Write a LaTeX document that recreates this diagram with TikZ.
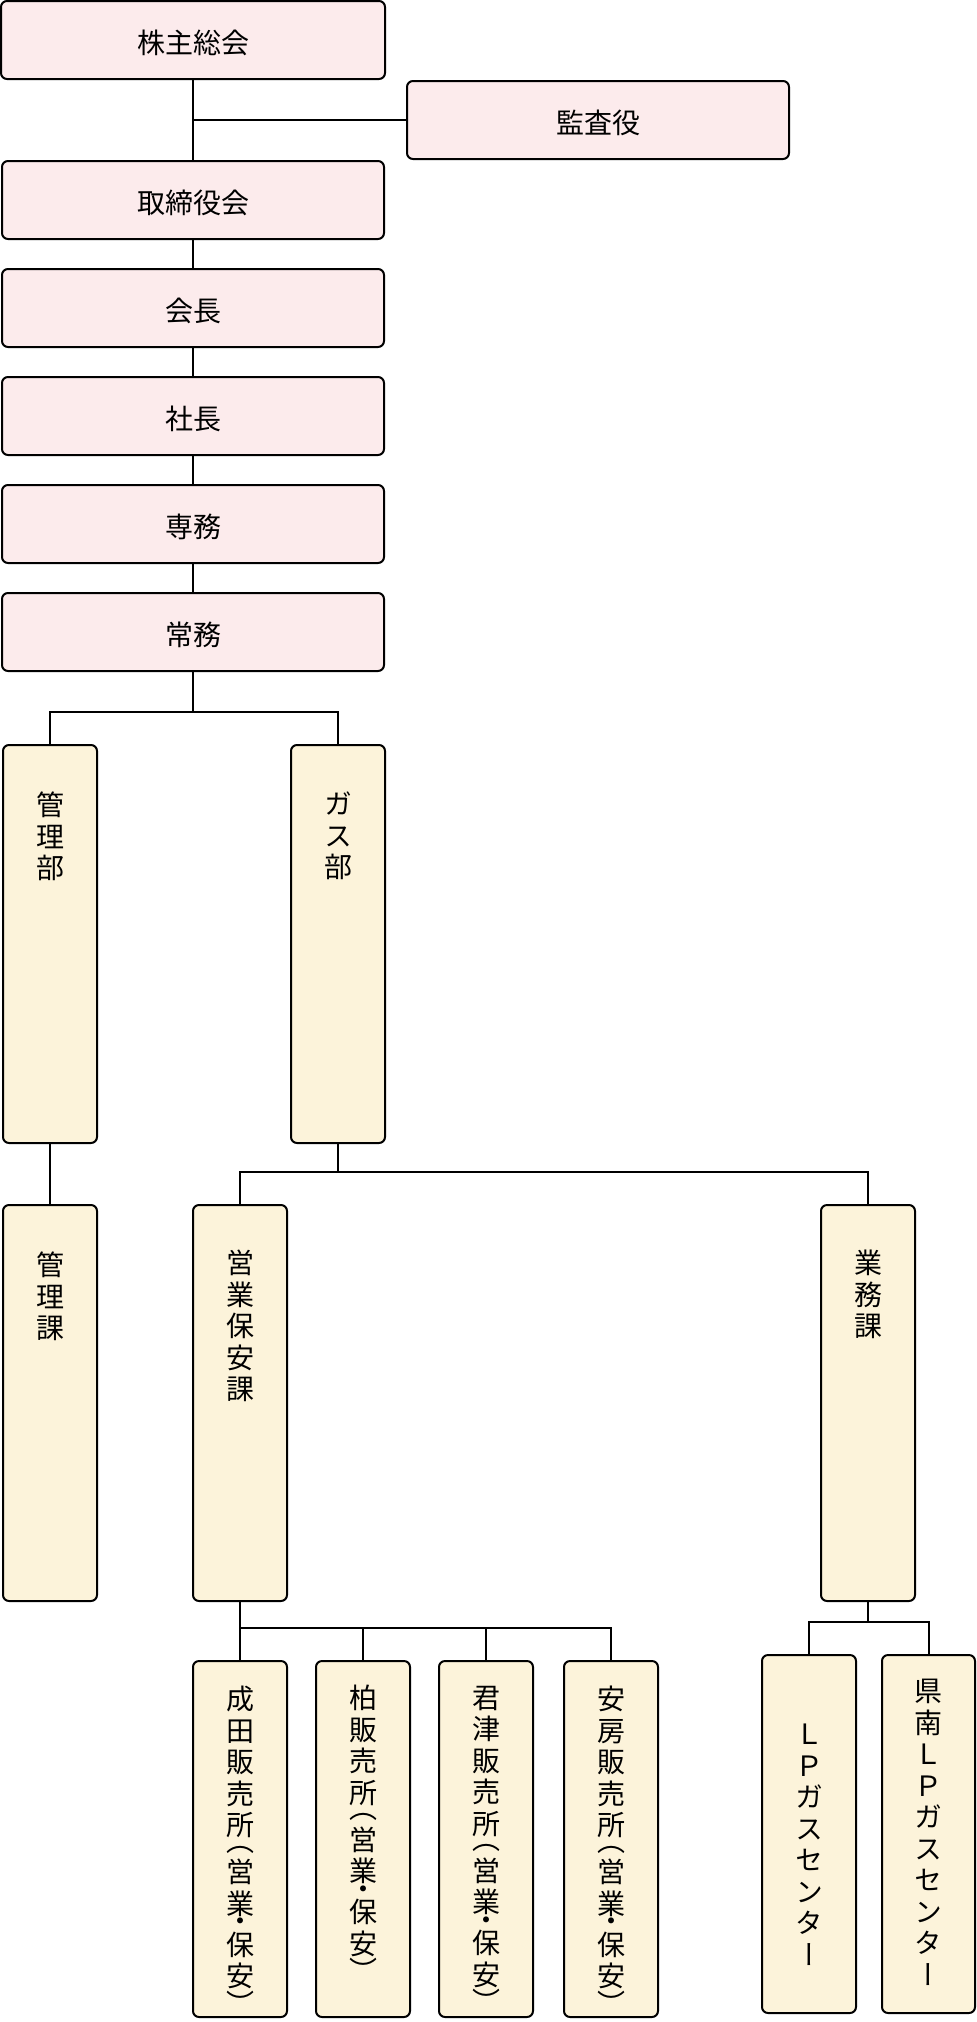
\documentclass[tikz,border=0pt]{standalone}
\usepackage{fontspec}
\setmainfont{Noto Sans CJK JP}
\newfontfamily\jpv[RawFeature=+vert]{Noto Sans CJK JP}
\definecolor{pinkc}{RGB}{252,235,236}
\definecolor{creamc}{RGB}{252,243,218}
\begin{document}
\begin{tikzpicture}[x=1pt,y=-1pt,
 box/.style={draw=black, line width=2pt, rounded corners=6pt, inner sep=0pt},
 pbox/.style={box, fill=pinkc, minimum width=382pt, minimum height=78pt, text height=30pt, text depth=3pt, font=\fontsize{28}{32}\selectfont},
 cbox/.style={box, fill=creamc, minimum width=94pt},
 vtext/.style={align=center, inner sep=0pt, font=\jpv\fontsize{28}{31.5}\selectfont, anchor=north},
 conn/.style={line width=2pt}]
\useasboundingbox[fill=white] (0,0) rectangle (977,2022);

% pink boxes
\node[pbox, minimum width=384pt] (kabu) at (193,40) {株主総会};
\node[pbox] (kansa) at (598,120) {監査役};
\node[pbox] (tori) at (193,200) {取締役会};
\node[pbox] (kaicho) at (193,308) {会長};
\node[pbox] (shacho) at (193,416) {社長};
\node[pbox] (senmu) at (193,524) {専務};
\node[pbox] (joumu) at (193,632) {常務};

% cream boxes
\node[cbox, minimum height=398pt] (kanribu) at (50,944) {};
\node[cbox, minimum height=398pt] (gasbu) at (338,944) {};
\node[cbox, minimum height=396pt] (kanrika) at (50,1403) {};
\node[cbox, minimum height=396pt] (eigyo) at (240,1403) {};
\node[cbox, minimum height=396pt] (gyomu) at (868,1403) {};
\node[cbox, minimum height=356pt] (narita) at (240,1839) {};
\node[cbox, minimum height=356pt] (kashiwa) at (363,1839) {};
\node[cbox, minimum height=356pt] (kimitsu) at (486,1839) {};
\node[cbox, minimum height=356pt] (awa) at (611,1839) {};
\node[cbox, minimum height=358pt] (lp) at (809,1834) {};
\node[cbox, minimum height=358pt, minimum width=93pt] (kennan) at (928.5,1834) {};

% vertical texts
\node[vtext] (kanribu-t) at ([yshift=-48pt]kanribu.north) {管\\理\\部};
\node[vtext] (gasbu-t) at ([yshift=-48pt]gasbu.north) {ガ\\ス\\部};
\node[vtext] (kanrika-t) at ([yshift=-48pt]kanrika.north) {管\\理\\課};
\node[vtext] (eigyo-t) at ([yshift=-46pt]eigyo.north) {営\\業\\保\\安\\課};
\node[vtext] (gyomu-t) at ([yshift=-46pt]gyomu.north) {業\\務\\課};
\node[vtext] (narita-t) at ([yshift=-26pt]narita.north) {成\\田\\販\\売\\所\\[-16pt]（\\営\\業\\[-14pt]・\\[-8pt]保\\安\\[-4pt]）};
\node[vtext] (kashiwa-t) at ([yshift=-25pt]kashiwa.north) {柏\\販\\売\\所\\[-16pt]（\\営\\業\\[-14pt]・\\[-8pt]保\\安\\[-4pt]）};
\node[vtext] (kimitsu-t) at ([yshift=-26pt]kimitsu.north) {君\\津\\販\\売\\所\\[-16pt]（\\営\\業\\[-14pt]・\\[-8pt]保\\安\\[-4pt]）};
\node[vtext] (awa-t) at ([yshift=-26pt]awa.north) {安\\房\\販\\売\\所\\[-16pt]（\\営\\業\\[-14pt]・\\[-8pt]保\\安\\[-4pt]）};
\node[vtext] (lp-t) at ([yshift=-70pt]lp.north) {Ｌ\\Ｐ\\ガ\\ス\\セ\\ン\\タ\\ー};
\node[vtext] (kennan-t) at ([yshift=-25pt]kennan.north) {県\\南\\Ｌ\\Ｐ\\ガ\\ス\\セ\\ン\\タ\\ー};

% connectors
\draw[conn] (kabu.south) -- (tori.north);
\draw[conn] (kabu.south |- kansa.west) -- (kansa.west);
\draw[conn] (tori.south) -- (kaicho.north);
\draw[conn] (kaicho.south) -- (shacho.north);
\draw[conn] (shacho.south) -- (senmu.north);
\draw[conn] (senmu.south) -- (joumu.north);
\coordinate (j1) at (193,712);
\draw[conn] (joumu.south) -- (j1);
\draw[conn] (kanribu.north) |- (j1) -| (gasbu.north);
\draw[conn] (kanribu.south) -- (kanrika.north);
\coordinate (g1) at (338,1172);
\draw[conn] (gasbu.south) -- (g1);
\draw[conn] (eigyo.north) |- (g1) -| (gyomu.north);
\coordinate (e1) at (240,1628);
\draw[conn] (eigyo.south) -- (narita.north);
\draw[conn] (e1) -| (awa.north);
\draw[conn] (kashiwa.north) -- (kashiwa.north |- e1);
\draw[conn] (kimitsu.north) -- (kimitsu.north |- e1);
\coordinate (y1) at (868,1622);
\draw[conn] (gyomu.south) -- (y1);
\draw[conn] (lp.north) |- (y1) -| (kennan.north);
\end{tikzpicture}
\end{document}
